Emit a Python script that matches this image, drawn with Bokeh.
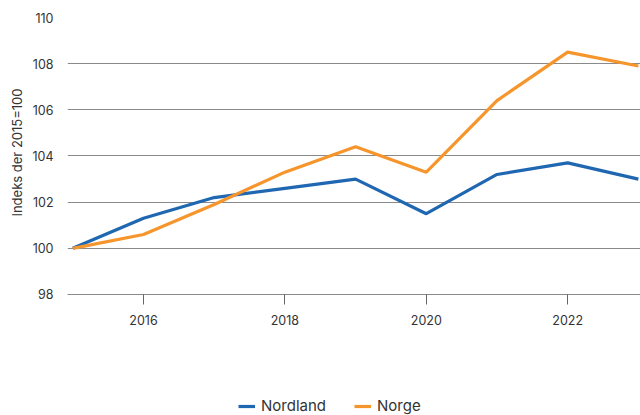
from bokeh.plotting import figure
from bokeh.models import Range1d, Legend, LegendItem, FixedTicker, Title
from bokeh.embed import file_html
from bokeh.resources import INLINE

years = [2015, 2016, 2017, 2018, 2019, 2020, 2021, 2022, 2023]
nordland = [100.0, 101.3, 102.2, 102.6, 103.0, 101.5, 103.2, 103.7, 103.0]
norge = [100.0, 100.6, 101.9, 103.3, 104.4, 103.3, 106.4, 108.5, 107.9]
x_ticks = [2016, 2018, 2020, 2022]
y_ticks = [98, 100, 102, 104, 106, 108, 110]
y_label = "Indeks der 2015=100"

FONT = "Inter"
TXT = "#333333"

# frame runs to the bottom of the canvas so the legend can sit inside it;
# the x axis is pinned at y = 98
p = figure(width=640, height=415, output_backend="svg", toolbar_location=None,
           x_range=Range1d(2014.925, 2023.03), y_range=Range1d(92.758, 110),
           min_border_left=67, min_border_right=0, min_border_top=17, min_border_bottom=0)
p.outline_line_color = None
p.background_fill_color = "white"

r1 = p.line(years, nordland, line_color="#1f67b1", line_width=3.2)
r2 = p.line(years, norge, line_color="#f7952d", line_width=3.2)

p.xgrid.visible = False
p.ygrid.ticker = FixedTicker(ticks=y_ticks)
p.ygrid.grid_line_color = "#8a8a8a"
p.ygrid.grid_line_width = 1

p.xaxis.fixed_location = y_ticks[0]
p.xaxis.ticker = FixedTicker(ticks=x_ticks)
p.xaxis.axis_line_color = "#8a8a8a"
p.xaxis.major_tick_line_color = "#666666"
p.xaxis.major_tick_out = 10
p.xaxis.major_tick_in = 0
p.xaxis.minor_tick_line_color = None
p.xaxis.major_label_text_font = FONT
p.xaxis.major_label_text_font_size = "12.5px"
p.xaxis.major_label_text_color = TXT
p.xaxis.major_label_standoff = 11

p.yaxis.ticker = FixedTicker(ticks=y_ticks)
p.yaxis.axis_line_color = None
p.yaxis.major_tick_line_color = None
p.yaxis.major_tick_out = 0
p.yaxis.major_tick_in = 0
p.yaxis.minor_tick_line_color = None
p.yaxis.major_label_text_font = FONT
p.yaxis.major_label_text_font_size = "12.5px"
p.yaxis.major_label_text_color = TXT
p.yaxis.major_label_standoff = 14

ytitle = Title(text=y_label, text_font=FONT, text_font_size="13px",
               text_font_style="normal", text_color=TXT,
               align="right", offset=71, vertical_align="middle", standoff=8)
p.add_layout(ytitle, "left")

legend = Legend(items=[LegendItem(label="Nordland", renderers=[r1]),
                       LegendItem(label="Norge", renderers=[r2])],
                orientation="horizontal", location=(171, 0),
                label_text_font=FONT, label_text_font_size="15px", label_text_color=TXT,
                glyph_width=17, glyph_height=14, spacing=28, label_standoff=6,
                border_line_color=None, background_fill_alpha=0, padding=2, margin=0)
p.add_layout(legend, "center")

open("out.html", "w").write(file_html(p, INLINE))
